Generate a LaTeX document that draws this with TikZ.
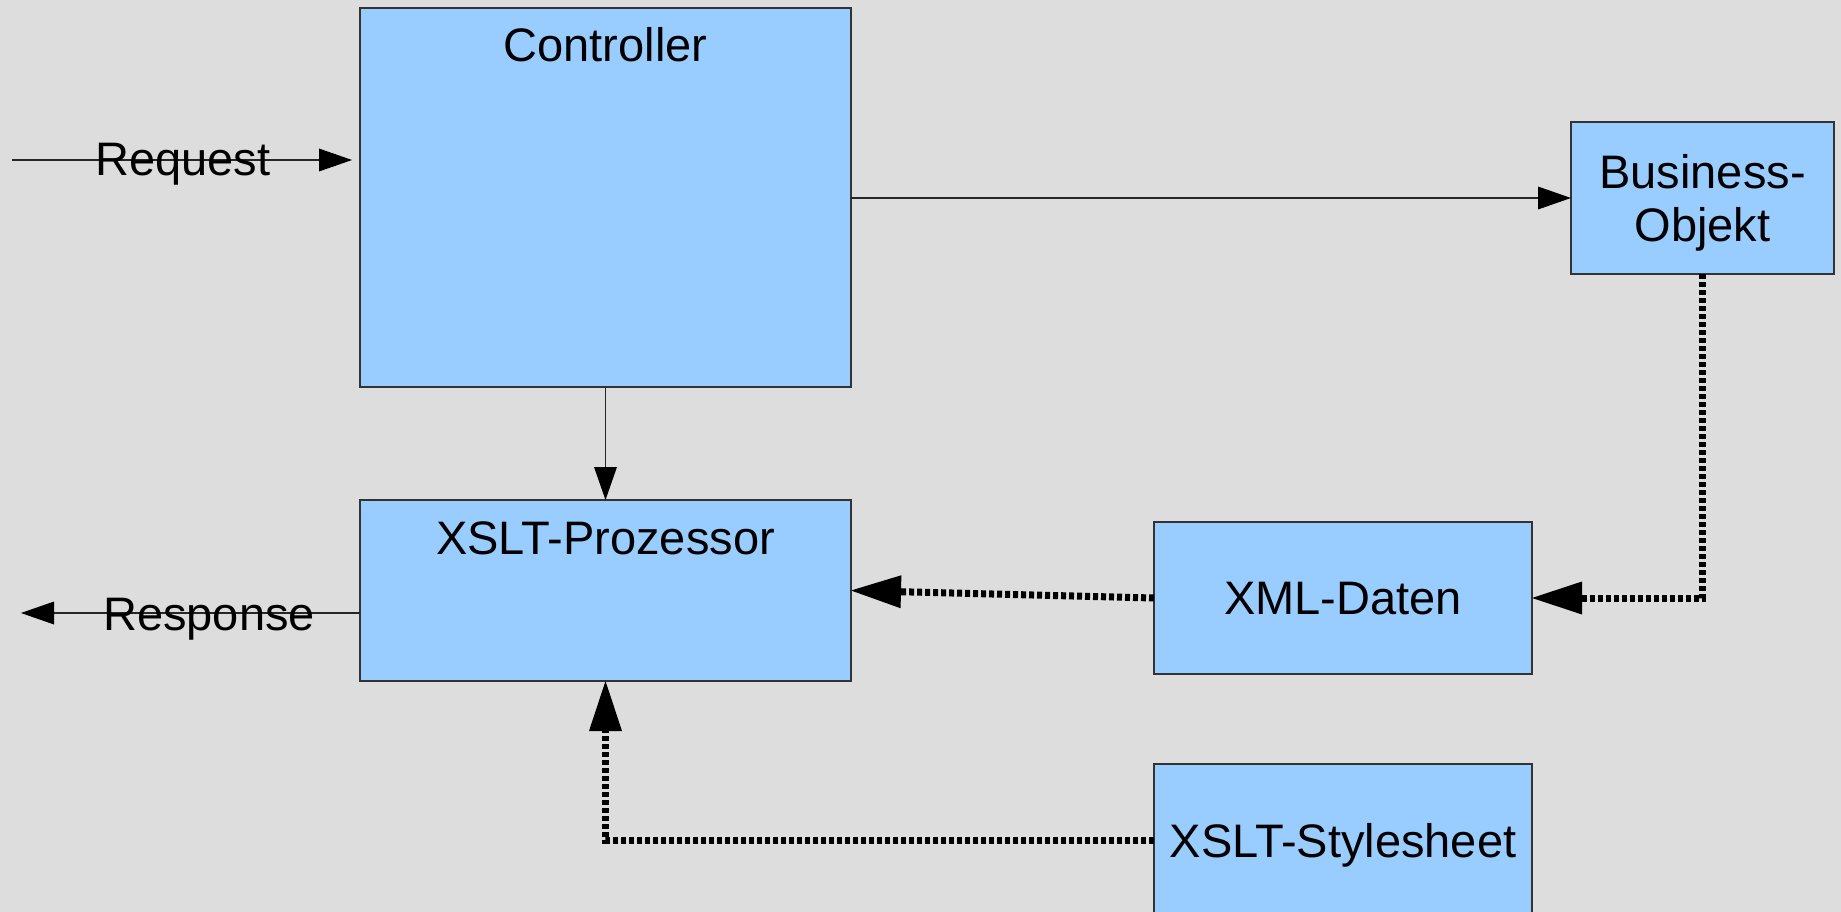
\documentclass[tikz,border=0pt]{standalone}
\usepackage{fontspec}
\setmainfont{Liberation Sans}
\usetikzlibrary{arrows.meta}
\definecolor{bgc}{HTML}{DDDDDD}
\definecolor{boxc}{HTML}{99CCFF}
\definecolor{edgec}{HTML}{333333}
\begin{document}
\begin{tikzpicture}[x=1pt,y=-1pt,
  box/.style={draw=edgec,fill=boxc,line width=1.3pt,inner sep=0pt,outer sep=0pt,
    font=\fontsize{47}{53}\selectfont,align=center,text depth=0pt},
  txt/.style={font=\fontsize{47}{53}\selectfont,inner sep=0pt},
  thin/.style={draw=black!85,line width=1.3pt,-{Triangle[length=33pt,width=23pt,line width=0pt,color=black]}},
  thick/.style={draw=black,line width=7pt,dash pattern=on 5pt off 3pt,
    -{Triangle[length=50pt,width=33pt,line width=0pt]}}]
\fill[bgc] (0,0) rectangle (1841,912);
\useasboundingbox (0,0) rectangle (1841,912);
\clip (0,0) rectangle (1841,912);
% boxes
\node[box,minimum width=491pt,minimum height=379pt,
  label={[txt,anchor=center,yshift=-37pt]north:Controller}] (ctrl) at (605.5,197.5) {};
\node[box,minimum width=491pt,minimum height=181pt,
  label={[txt,anchor=center,yshift=-38pt]north:XSLT-Prozessor}] (xslt) at (605.5,590.5) {};
\node[box,minimum width=263pt,minimum height=152pt] (bo) at (1702.5,198) {Business-\\Objekt};
\node[box,minimum width=378pt,minimum height=152pt] (xml) at (1343,598) {XML-Daten};
\node[box,minimum width=378pt,minimum height=153pt] (ss) at (1343,840.5) {XSLT-Stylesheet};
% request / response
\coordinate (reqs) at (12,160);
\coordinate (rese) at (21,613);
\draw[thin,shorten >=8pt] (reqs) -- (ctrl.west |- reqs);
\node[txt,anchor=base] (reql) at (183,176) {Request};
\draw[thin] (xslt.west |- rese) -- (rese);
\node[txt,anchor=base] (resl) at (209,630) {Response};
% thin connectors
\draw[thin] (ctrl.south) -- (xslt.north);
\draw[thin] (bo.west -| ctrl.east) -- (bo.west);
% thick dotted connectors
\draw[thick] (bo.south) |- (xml.east);
\draw[thick] (xml.west) -- (xslt.east);
\draw[thick] (ss.west) -| (xslt.south);
\end{tikzpicture}
\end{document}
